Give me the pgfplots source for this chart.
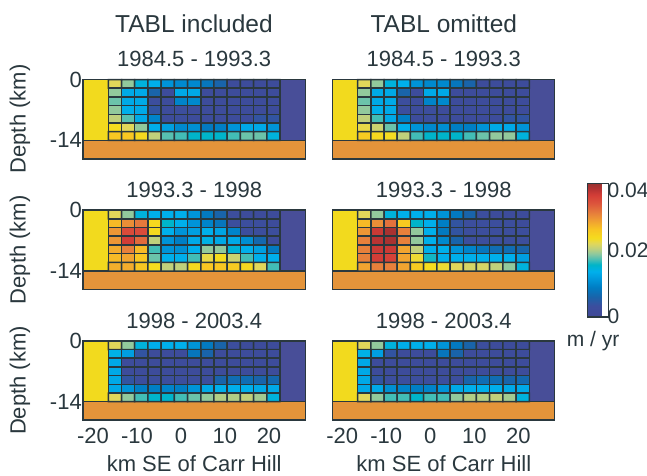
\documentclass[border=0pt]{standalone}
\usepackage{pgfplots}
\pgfplotsset{compat=1.18}
\usepackage{fontspec}
\setmainfont{Liberation Sans}

\definecolor{ink}{RGB}{42,56,62}
\definecolor{crustyellow}{RGB}{242,218,30}
\definecolor{eastpurple}{RGB}{72,78,152}
\definecolor{slaborange}{RGB}{228,148,58}

\pgfplotsset{
  colormap={vel}{
    rgb255(0pt)=(64,72,150);
    rgb255(8pt)=(60,78,158);
    rgb255(15pt)=(25,100,170);
    rgb255(22pt)=(0,125,195);
    rgb255(28pt)=(0,150,218);
    rgb255(34pt)=(0,176,236);
    rgb255(39pt)=(0,180,200);
    rgb255(43pt)=(75,190,180);
    rgb255(47pt)=(140,200,160);
    rgb255(51pt)=(190,208,125);
    rgb255(55pt)=(225,215,90);
    rgb255(59pt)=(245,220,30);
    rgb255(66pt)=(248,195,35);
    rgb255(72pt)=(240,160,50);
    rgb255(78pt)=(230,125,60);
    rgb255(85pt)=(220,85,60);
    rgb255(91pt)=(212,62,55);
    rgb255(96pt)=(180,50,50);
    rgb255(100pt)=(150,50,48)
  },
  panel/.style={
    scale only axis, width=222.3pt, height=79.2pt,
    anchor=south west,
    xmin=-22.25, xmax=28.25, ymin=-18.2, ymax=0,
    axis line style={draw=ink, line width=1.6pt},
    major tick length=0pt, tick style={draw=none},
    xtick={-20,-10,0,10,20}, ytick={-14,0},
    xticklabels={}, yticklabels={},
    colormap name=vel, point meta min=0, point meta max=0.04,
    axis on top, clip=false,
    tick label style={font=\fontsize{22}{24}\selectfont, text=ink},
    xticklabel style={yshift=-4.4pt},
    yticklabel style={xshift=2.3pt},
  },
  xlab/.style={xticklabels={-20,-10,0,10,20}},
  ylab/.style={yticklabels={-14,0}},
  velgrid/.style={matrix plot*, mesh/cols=13, point meta=explicit,
    draw=ink, line width=1.5pt},
  regionedge/.style={draw=ink, line width=1.5pt},
}

% fixed regions on either side of the grid and the layer beneath it
\newcommand\fixedregions{%
  \addplot[regionedge, fill=slaborange] coordinates {(-22.25,-18.2) (28.25,-18.2) (28.25,-14) (-22.25,-14)} -- cycle;
  \addplot[regionedge, fill=crustyellow] coordinates {(-22.25,-14) (-16.5,-14) (-16.5,0) (-22.25,0)} -- cycle;
  \addplot[regionedge, fill=eastpurple] coordinates {(22.5,-14) (28.25,-14) (28.25,0) (22.5,0)} -- cycle;
}

\begin{document}
\begin{tikzpicture}
\useasboundingbox (0,0) rectangle (647pt,475pt);

% ---------- 1984.5 - 1993.3, TABL included ----------
\begin{axis}[panel, ylab, at={(83pt,316.3pt)}]
\fixedregions
\addplot[velgrid] coordinates {
(-15,-1)[0.022] (-12,-1)[0.019] (-9,-1)[0.0145] (-6,-1)[0.0135] (-3,-1)[0.011] (0,-1)[0.010] (3,-1)[0.010] (6,-1)[0.008] (9,-1)[0.006] (12,-1)[0.002] (15,-1)[0.002] (18,-1)[0.002] (21,-1)[0.002]
(-15,-3)[0.019] (-12,-3)[0.013] (-9,-3)[0.013] (-6,-3)[0.006] (-3,-3)[0.002] (0,-3)[0.013] (3,-3)[0.013] (6,-3)[0.002] (9,-3)[0.002] (12,-3)[0.002] (15,-3)[0.002] (18,-3)[0.002] (21,-3)[0.002]
(-15,-5)[0.018] (-12,-5)[0.013] (-9,-5)[0.013] (-6,-5)[0.003] (-3,-5)[0.002] (0,-5)[0.0095] (3,-5)[0.010] (6,-5)[0.002] (9,-5)[0.002] (12,-5)[0.002] (15,-5)[0.002] (18,-5)[0.002] (21,-5)[0.002]
(-15,-7)[0.019] (-12,-7)[0.0135] (-9,-7)[0.013] (-6,-7)[0.004] (-3,-7)[0.002] (0,-7)[0.003] (3,-7)[0.002] (6,-7)[0.002] (9,-7)[0.002] (12,-7)[0.002] (15,-7)[0.002] (18,-7)[0.002] (21,-7)[0.002]
(-15,-9)[0.0205] (-12,-9)[0.0175] (-9,-9)[0.013] (-6,-9)[0.0095] (-3,-9)[0.002] (0,-9)[0.003] (3,-9)[0.002] (6,-9)[0.002] (9,-9)[0.002] (12,-9)[0.002] (15,-9)[0.002] (18,-9)[0.004] (21,-9)[0.004]
(-15,-11)[0.0236] (-12,-11)[0.022] (-9,-11)[0.019] (-6,-11)[0.0135] (-3,-11)[0.012] (0,-11)[0.010] (3,-11)[0.0105] (6,-11)[0.0085] (9,-11)[0.009] (12,-11)[0.011] (15,-11)[0.013] (18,-11)[0.013] (21,-11)[0.011]
(-15,-13)[0.026] (-12,-13)[0.026] (-9,-13)[0.024] (-6,-13)[0.0205] (-3,-13)[0.0175] (0,-13)[0.017] (3,-13)[0.0155] (6,-13)[0.0155] (9,-13)[0.0155] (12,-13)[0.017] (15,-13)[0.018] (18,-13)[0.018] (21,-13)[0.0145]
};
\end{axis}

% ---------- 1984.5 - 1993.3, TABL omitted ----------
\begin{axis}[panel, at={(332.3pt,316.3pt)}]
\fixedregions
\addplot[velgrid] coordinates {
(-15,-1)[0.022] (-12,-1)[0.019] (-9,-1)[0.0145] (-6,-1)[0.0135] (-3,-1)[0.011] (0,-1)[0.010] (3,-1)[0.010] (6,-1)[0.008] (9,-1)[0.006] (12,-1)[0.002] (15,-1)[0.002] (18,-1)[0.002] (21,-1)[0.002]
(-15,-3)[0.019] (-12,-3)[0.013] (-9,-3)[0.013] (-6,-3)[0.006] (-3,-3)[0.002] (0,-3)[0.013] (3,-3)[0.013] (6,-3)[0.002] (9,-3)[0.002] (12,-3)[0.002] (15,-3)[0.002] (18,-3)[0.002] (21,-3)[0.002]
(-15,-5)[0.018] (-12,-5)[0.013] (-9,-5)[0.013] (-6,-5)[0.003] (-3,-5)[0.002] (0,-5)[0.0095] (3,-5)[0.010] (6,-5)[0.002] (9,-5)[0.002] (12,-5)[0.002] (15,-5)[0.002] (18,-5)[0.002] (21,-5)[0.002]
(-15,-7)[0.019] (-12,-7)[0.0135] (-9,-7)[0.013] (-6,-7)[0.003] (-3,-7)[0.002] (0,-7)[0.003] (3,-7)[0.002] (6,-7)[0.002] (9,-7)[0.002] (12,-7)[0.002] (15,-7)[0.002] (18,-7)[0.002] (21,-7)[0.002]
(-15,-9)[0.0205] (-12,-9)[0.017] (-9,-9)[0.013] (-6,-9)[0.009] (-3,-9)[0.002] (0,-9)[0.003] (3,-9)[0.002] (6,-9)[0.002] (9,-9)[0.002] (12,-9)[0.002] (15,-9)[0.002] (18,-9)[0.004] (21,-9)[0.004]
(-15,-11)[0.0225] (-12,-11)[0.021] (-9,-11)[0.018] (-6,-11)[0.0135] (-3,-11)[0.011] (0,-11)[0.010] (3,-11)[0.0105] (6,-11)[0.009] (9,-11)[0.009] (12,-11)[0.011] (15,-11)[0.013] (18,-11)[0.013] (21,-11)[0.011]
(-15,-13)[0.0255] (-12,-13)[0.024] (-9,-13)[0.0235] (-6,-13)[0.0205] (-3,-13)[0.017] (0,-13)[0.0155] (3,-13)[0.0155] (6,-13)[0.0155] (9,-13)[0.017] (12,-13)[0.018] (15,-13)[0.019] (18,-13)[0.019] (21,-13)[0.0145]
};
\end{axis}

% ---------- 1993.3 - 1998, TABL included ----------
\begin{axis}[panel, ylab, at={(83pt,185.7pt)}]
\fixedregions
\addplot[velgrid] coordinates {
(-15,-1)[0.022] (-12,-1)[0.019] (-9,-1)[0.0145] (-6,-1)[0.0135] (-3,-1)[0.0135] (0,-1)[0.0135] (3,-1)[0.011] (6,-1)[0.0085] (9,-1)[0.006] (12,-1)[0.003] (15,-1)[0.002] (18,-1)[0.002] (21,-1)[0.002]
(-15,-3)[0.027] (-12,-3)[0.030] (-9,-3)[0.0315] (-6,-3)[0.024] (-3,-3)[0.0155] (0,-3)[0.0135] (3,-3)[0.011] (6,-3)[0.0095] (9,-3)[0.008] (12,-3)[0.003] (15,-3)[0.003] (18,-3)[0.003] (21,-3)[0.002]
(-15,-5)[0.0295] (-12,-5)[0.035] (-9,-5)[0.035] (-6,-5)[0.024] (-3,-5)[0.0135] (0,-5)[0.011] (3,-5)[0.012] (6,-5)[0.0135] (9,-5)[0.0125] (12,-5)[0.0095] (15,-5)[0.003] (18,-5)[0.003] (21,-5)[0.003]
(-15,-7)[0.0295] (-12,-7)[0.0365] (-9,-7)[0.0325] (-6,-7)[0.0205] (-3,-7)[0.011] (0,-7)[0.009] (3,-7)[0.013] (6,-7)[0.014] (9,-7)[0.013] (12,-7)[0.013] (15,-7)[0.0105] (18,-7)[0.0065] (21,-7)[0.002]
(-15,-9)[0.028] (-12,-9)[0.031] (-9,-9)[0.027] (-6,-9)[0.017] (-3,-9)[0.011] (0,-9)[0.0105] (3,-9)[0.0135] (6,-9)[0.019] (9,-9)[0.019] (12,-9)[0.0148] (15,-9)[0.0135] (18,-9)[0.012] (21,-9)[0.0085]
(-15,-11)[0.027] (-12,-11)[0.0285] (-9,-11)[0.026] (-6,-11)[0.018] (-3,-11)[0.0135] (0,-11)[0.0135] (3,-11)[0.017] (6,-11)[0.0225] (9,-11)[0.0236] (12,-11)[0.021] (15,-11)[0.017] (18,-11)[0.0135] (21,-11)[0.0135]
(-15,-13)[0.0278] (-12,-13)[0.028] (-9,-13)[0.026] (-6,-13)[0.0236] (-3,-13)[0.0205] (0,-13)[0.0205] (3,-13)[0.024] (6,-13)[0.026] (9,-13)[0.026] (12,-13)[0.0255] (15,-13)[0.024] (18,-13)[0.022] (21,-13)[0.017]
};
\end{axis}

% ---------- 1993.3 - 1998, TABL omitted ----------
\begin{axis}[panel, at={(332.3pt,185.7pt)}]
\fixedregions
\addplot[velgrid] coordinates {
(-15,-1)[0.022] (-12,-1)[0.019] (-9,-1)[0.0145] (-6,-1)[0.0135] (-3,-1)[0.0135] (0,-1)[0.0135] (3,-1)[0.011] (6,-1)[0.0085] (9,-1)[0.006] (12,-1)[0.003] (15,-1)[0.002] (18,-1)[0.002] (21,-1)[0.002]
(-15,-3)[0.027] (-12,-3)[0.030] (-9,-3)[0.032] (-6,-3)[0.0255] (-3,-3)[0.0155] (0,-3)[0.0135] (3,-3)[0.009] (6,-3)[0.004] (9,-3)[0.003] (12,-3)[0.003] (15,-3)[0.003] (18,-3)[0.003] (21,-3)[0.002]
(-15,-5)[0.0295] (-12,-5)[0.037] (-9,-5)[0.039] (-6,-5)[0.031] (-3,-5)[0.019] (0,-5)[0.0135] (3,-5)[0.0085] (6,-5)[0.004] (9,-5)[0.003] (12,-5)[0.003] (15,-5)[0.003] (18,-5)[0.003] (21,-5)[0.003]
(-15,-7)[0.031] (-12,-7)[0.038] (-9,-7)[0.039] (-6,-7)[0.031] (-3,-7)[0.019] (0,-7)[0.0135] (3,-7)[0.010] (6,-7)[0.006] (9,-7)[0.003] (12,-7)[0.003] (15,-7)[0.003] (18,-7)[0.003] (21,-7)[0.003]
(-15,-9)[0.031] (-12,-9)[0.037] (-9,-9)[0.037] (-6,-9)[0.0285] (-3,-9)[0.0205] (0,-9)[0.0135] (3,-9)[0.0135] (6,-9)[0.011] (9,-9)[0.0095] (12,-9)[0.008] (15,-9)[0.007] (18,-9)[0.007] (21,-9)[0.006]
(-15,-11)[0.031] (-12,-11)[0.0365] (-9,-11)[0.036] (-6,-11)[0.0285] (-3,-11)[0.023] (0,-11)[0.016] (3,-11)[0.0135] (6,-11)[0.0135] (9,-11)[0.0135] (12,-11)[0.0135] (15,-11)[0.0135] (18,-11)[0.0135] (21,-11)[0.012]
(-15,-13)[0.0285] (-12,-13)[0.031] (-9,-13)[0.031] (-6,-13)[0.0285] (-3,-13)[0.0255] (0,-13)[0.0236] (3,-13)[0.023] (6,-13)[0.022] (9,-13)[0.0215] (12,-13)[0.0215] (15,-13)[0.0205] (18,-13)[0.019] (21,-13)[0.0145]
};
\end{axis}

% ---------- 1998 - 2003.4, TABL included ----------
\begin{axis}[panel, xlab, ylab, at={(83pt,55pt)}]
\fixedregions
\addplot[velgrid] coordinates {
(-15,-1)[0.022] (-12,-1)[0.019] (-9,-1)[0.0145] (-6,-1)[0.0135] (-3,-1)[0.0135] (0,-1)[0.0135] (3,-1)[0.011] (6,-1)[0.0085] (9,-1)[0.006] (12,-1)[0.003] (15,-1)[0.002] (18,-1)[0.002] (21,-1)[0.002]
(-15,-3)[0.014] (-12,-3)[0.012] (-9,-3)[0.004] (-6,-3)[0.002] (-3,-3)[0.002] (0,-3)[0.002] (3,-3)[0.008] (6,-3)[0.006] (9,-3)[0.002] (12,-3)[0.002] (15,-3)[0.002] (18,-3)[0.002] (21,-3)[0.002]
(-15,-5)[0.013] (-12,-5)[0.002] (-9,-5)[0.002] (-6,-5)[0.002] (-3,-5)[0.002] (0,-5)[0.002] (3,-5)[0.002] (6,-5)[0.002] (9,-5)[0.002] (12,-5)[0.002] (15,-5)[0.002] (18,-5)[0.002] (21,-5)[0.002]
(-15,-7)[0.013] (-12,-7)[0.002] (-9,-7)[0.002] (-6,-7)[0.002] (-3,-7)[0.002] (0,-7)[0.002] (3,-7)[0.002] (6,-7)[0.002] (9,-7)[0.002] (12,-7)[0.002] (15,-7)[0.002] (18,-7)[0.002] (21,-7)[0.002]
(-15,-9)[0.013] (-12,-9)[0.004] (-9,-9)[0.003] (-6,-9)[0.003] (-3,-9)[0.003] (0,-9)[0.003] (3,-9)[0.003] (6,-9)[0.003] (9,-9)[0.006] (12,-9)[0.007] (15,-9)[0.007] (18,-9)[0.006] (21,-9)[0.0065]
(-15,-11)[0.013] (-12,-11)[0.011] (-9,-11)[0.009] (-6,-11)[0.009] (-3,-11)[0.0095] (0,-11)[0.009] (3,-11)[0.011] (6,-11)[0.013] (9,-11)[0.0135] (12,-11)[0.0135] (15,-11)[0.0135] (18,-11)[0.013] (21,-11)[0.013]
(-15,-13)[0.022] (-12,-13)[0.019] (-9,-13)[0.017] (-6,-13)[0.0155] (-3,-13)[0.0155] (0,-13)[0.017] (3,-13)[0.018] (6,-13)[0.019] (9,-13)[0.020] (12,-13)[0.020] (15,-13)[0.0205] (18,-13)[0.0195] (21,-13)[0.0145]
};
\end{axis}

% ---------- 1998 - 2003.4, TABL omitted ----------
\begin{axis}[panel, xlab, at={(332.3pt,55pt)}]
\fixedregions
\addplot[velgrid] coordinates {
(-15,-1)[0.022] (-12,-1)[0.019] (-9,-1)[0.0145] (-6,-1)[0.0135] (-3,-1)[0.0135] (0,-1)[0.0135] (3,-1)[0.011] (6,-1)[0.0085] (9,-1)[0.006] (12,-1)[0.003] (15,-1)[0.002] (18,-1)[0.002] (21,-1)[0.002]
(-15,-3)[0.014] (-12,-3)[0.012] (-9,-3)[0.004] (-6,-3)[0.002] (-3,-3)[0.002] (0,-3)[0.002] (3,-3)[0.008] (6,-3)[0.006] (9,-3)[0.002] (12,-3)[0.002] (15,-3)[0.002] (18,-3)[0.002] (21,-3)[0.002]
(-15,-5)[0.013] (-12,-5)[0.002] (-9,-5)[0.002] (-6,-5)[0.002] (-3,-5)[0.002] (0,-5)[0.002] (3,-5)[0.002] (6,-5)[0.002] (9,-5)[0.002] (12,-5)[0.002] (15,-5)[0.002] (18,-5)[0.002] (21,-5)[0.002]
(-15,-7)[0.013] (-12,-7)[0.002] (-9,-7)[0.002] (-6,-7)[0.002] (-3,-7)[0.002] (0,-7)[0.002] (3,-7)[0.002] (6,-7)[0.002] (9,-7)[0.002] (12,-7)[0.002] (15,-7)[0.002] (18,-7)[0.002] (21,-7)[0.002]
(-15,-9)[0.013] (-12,-9)[0.004] (-9,-9)[0.003] (-6,-9)[0.003] (-3,-9)[0.003] (0,-9)[0.003] (3,-9)[0.003] (6,-9)[0.003] (9,-9)[0.006] (12,-9)[0.007] (15,-9)[0.007] (18,-9)[0.006] (21,-9)[0.0065]
(-15,-11)[0.013] (-12,-11)[0.013] (-9,-11)[0.0105] (-6,-11)[0.0095] (-3,-11)[0.009] (0,-11)[0.0095] (3,-11)[0.011] (6,-11)[0.013] (9,-11)[0.0135] (12,-11)[0.0135] (15,-11)[0.0135] (18,-11)[0.013] (21,-11)[0.013]
(-15,-13)[0.022] (-12,-13)[0.019] (-9,-13)[0.017] (-6,-13)[0.017] (-3,-13)[0.0155] (0,-13)[0.017] (3,-13)[0.017] (6,-13)[0.019] (9,-13)[0.020] (12,-13)[0.020] (15,-13)[0.0205] (18,-13)[0.0195] (21,-13)[0.0145]
};
\end{axis}

% ---------- colour scale ----------
\begin{axis}[hide axis, scale only axis, width=21pt, height=133.4pt,
  at={(579pt,158.3pt)}, anchor=south west,
  xmin=0, xmax=1, ymin=0, ymax=1,
  colormap name=vel, point meta min=0, point meta max=0.04,
  colorbar,
  colorbar style={
    at={(parent axis.south west)}, anchor=south west, width=21pt,
    axis line style={draw=ink, line width=1.6pt},
    major tick length=0pt, tick style={draw=none},
    scaled y ticks=false,
    ytick={0,0.02}, yticklabels={0,0.02},
    extra y ticks={0.04}, extra y tick labels={0.04},
    extra y tick style={yticklabel style={yshift=-6.5pt}},
    yticklabel style={font=\fontsize{21}{23}\selectfont, text=ink, xshift=-4.5pt},
  }]
\addplot[draw=none, point meta=0] coordinates {(0,0)};
\end{axis}

% ---------- titles and labels ----------
\begin{scope}[every node/.style={text=ink}]
\node[anchor=base, font=\fontsize{24.5}{26}\selectfont] at (194pt,442pt) {TABL included};
\node[anchor=base, font=\fontsize{24.5}{26}\selectfont] at (443.8pt,442pt) {TABL omitted};
\foreach \cx in {194.2,443.8} {
  \node[anchor=base, font=\fontsize{22}{24}\selectfont] at (\cx pt,408.3pt) {1984.5 - 1993.3};
  \node[anchor=base, font=\fontsize{22}{24}\selectfont] at (\cx pt,277.3pt) {1993.3 - 1998};
  \node[anchor=base, font=\fontsize{22}{24}\selectfont] at (\cx pt,146.6pt) {1998 - 2003.4};
  \node[anchor=base, font=\fontsize{22}{24}\selectfont] at (\cx pt,4pt) {km SE of Carr Hill};
}
\foreach \cy in {356,225.2,94.5} {
  \node[rotate=90, font=\fontsize{22}{24}\selectfont] at (20pt,\cy pt) {Depth (km)};
}
\node[anchor=base, font=\fontsize{21}{23}\selectfont] at (593pt,129pt) {m / yr};
\end{scope}
\end{tikzpicture}
\end{document}
